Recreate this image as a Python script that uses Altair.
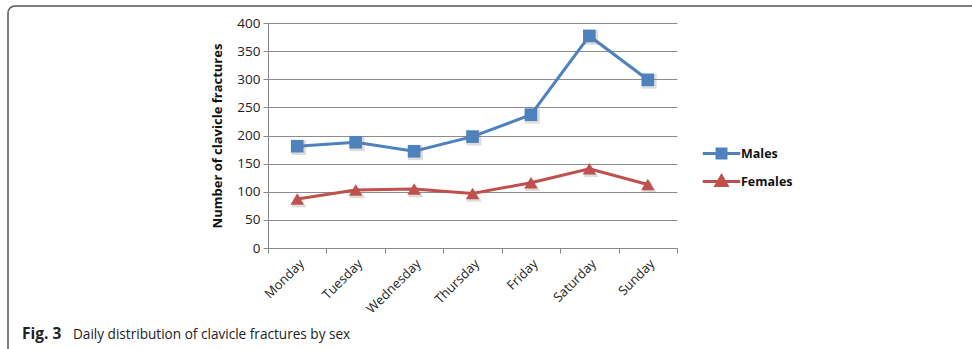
import altair as alt
import pandas as pd

days = ["Monday", "Tuesday", "Wednesday", "Thursday", "Friday", "Saturday", "Sunday"]
males = [181, 188, 172, 198, 237, 377, 299]
females = [87, 103, 105, 97, 116, 141, 113]
series = ["Males", "Females"]
colors = ["#4F81BD", "#C0504D"]
markers = ["square", "triangle-up"]
marker_sizes = [160, 180]
legend_paths = [
    "M-1.25,0H1.25M-0.3,-0.3H0.3V0.3H-0.3Z",
    "M-1.25,0H1.25M0,-0.36L0.36,0.26H-0.36Z",
]
y_ticks = [0, 50, 100, 150, 200, 250, 300, 350, 400]

rows = []
for d, m, f in zip(days, males, females):
    rows.append({"day": d, "series": "Males", "value": m})
    rows.append({"day": d, "series": "Females", "value": f})
df = pd.DataFrame(rows)

FONT = "Open Sans"

x_enc = alt.X(
    "day:N",
    sort=days,
    bandPosition=0.5,
    scale=alt.Scale(type="band", paddingInner=0, paddingOuter=0),
    axis=alt.Axis(
        title=None,
        labelAngle=-45,
        tickBand="extent",
        labelFont=FONT,
        labelFontSize=13,
        labelColor="#222",
        domainColor="#888",
        tickColor="#888",
        tickSize=5,
        labelPadding=4,
        grid=False,
    ),
)
y_enc = alt.Y(
    "value:Q",
    scale=alt.Scale(domain=[0, 400], nice=False),
    axis=alt.Axis(
        title="Number of clavicle fractures",
        values=y_ticks,
        titleFont=FONT,
        titleFontSize=13,
        titleFontWeight="bold",
        titleColor="#111",
        titlePadding=12,
        labelFont=FONT,
        labelFontSize=13.5,
        labelColor="#222",
        domainColor="#888",
        tickColor="#888",
        tickSize=5,
        gridColor="#8c8c8c",
        gridWidth=1,
        labelPadding=3,
    ),
)

base = alt.Chart(df)

layers = []
frame = alt.Chart(pd.DataFrame({"a": [0]})).mark_rect(
    fill="transparent", stroke="#555", strokeWidth=1.5, cornerRadius=7
).encode(
    x=alt.value(-260), x2=alt.value(1000), y=alt.value(-17), y2=alt.value(400)
)
layers.append(frame)

for s, c, mk, sz in zip(series, colors, markers, marker_sizes):
    sub = base.transform_filter(alt.datum.series == s)
    layers.append(sub.mark_line(strokeWidth=3, color=c).encode(x=x_enc, y=y_enc))
    layers.append(
        sub.mark_point(
            shape=mk, filled=True, size=sz + 60, opacity=0.25, color="#777", xOffset=1.5, yOffset=1.5
        ).encode(x=x_enc, y=y_enc)
    )
    layers.append(
        sub.mark_point(shape=mk, filled=True, size=sz, opacity=1, color=c).encode(x=x_enc, y=y_enc)
    )

legend_layer = base.mark_point(filled=True, strokeWidth=3, opacity=0).encode(
    x=x_enc,
    y=y_enc,
    fill=alt.Fill("series:N", scale=alt.Scale(domain=series, range=colors), title=None),
    stroke=alt.Stroke("series:N", scale=alt.Scale(domain=series, range=colors), title=None),
    shape=alt.Shape("series:N", scale=alt.Scale(domain=series, range=legend_paths), title=None),
)
layers.append(legend_layer)

cap_bold = alt.Chart(pd.DataFrame({"t": ["Fig. 3"]})).mark_text(
    font=FONT, fontSize=15.5, fontWeight="bold", align="left", baseline="alphabetic", color="#222"
).encode(text="t:N", x=alt.value(-246), y=alt.value(316))

cap_text = alt.Chart(pd.DataFrame({"t": ["Daily distribution of clavicle fractures by sex"]})).mark_text(
    font=FONT, fontSize=13.6, align="left", baseline="alphabetic", color="#222"
).encode(text="t:N", x=alt.value(-195), y=alt.value(316))
layers += [cap_bold, cap_text]

chart = (
    alt.layer(*layers)
    .properties(
        width=409,
        height=225,
        background="white",
        autosize=alt.AutoSizeParams(type="none"),
        padding={"left": 268, "top": 23, "right": 295, "bottom": 101},
    )
    .configure_view(stroke=None)
    .configure_legend(
        orient="none",
        legendX=437,
        legendY=114,
        symbolSize=900,
        symbolStrokeWidth=3,
        symbolOpacity=1,
        labelFont=FONT,
        labelFontSize=12.5,
        labelFontWeight="bold",
        labelColor="#111",
        labelOffset=3,
        rowPadding=1,
        padding=0,
    )
)

chart.save("out.html", embed_options={"renderer": "svg", "actions": False})
